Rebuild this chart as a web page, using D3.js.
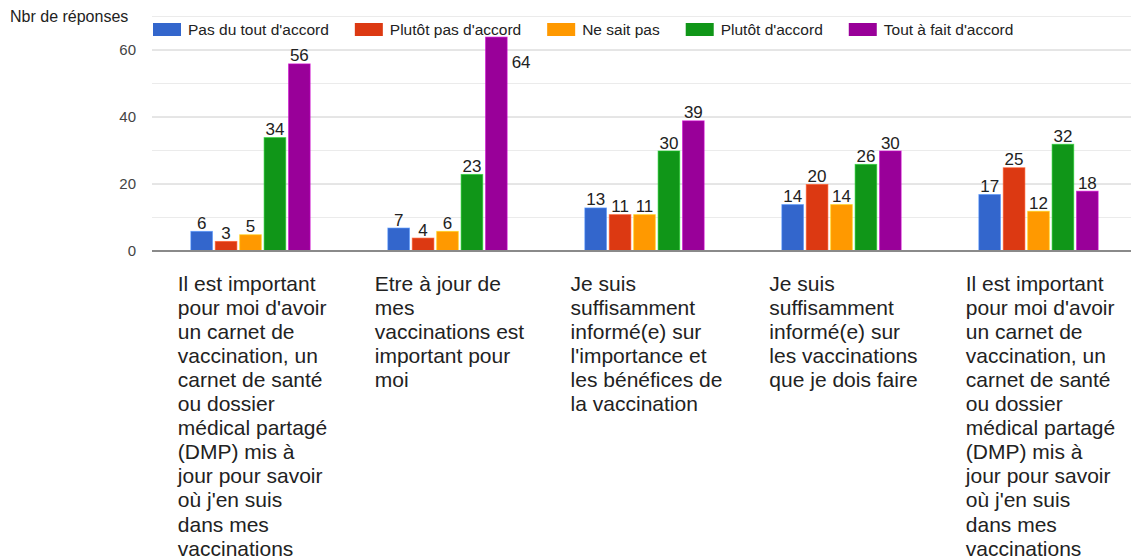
<!DOCTYPE html>
<html>
<head>
<meta charset="utf-8">
<script src="https://cdn.jsdelivr.net/npm/d3@7"></script>
<style>
  html, body { margin: 0; padding: 0; background: #fff; }
  svg { display: block; font-family: "Liberation Sans", Arial, Helvetica, sans-serif; }
</style>
</head>
<body>
<svg id="chart" width="1131" height="560"></svg>
<script>
// Survey statements (wrapped lines as displayed under each group)
const categories = [
  ["Il est important", "pour moi d'avoir", "un carnet de", "vaccination, un", "carnet de santé", "ou dossier", "médical partagé", "(DMP) mis à", "jour pour savoir", "où j'en suis", "dans mes", "vaccinations"],
  ["Etre à jour de", "mes", "vaccinations est", "important pour", "moi"],
  ["Je suis", "suffisamment", "informé(e) sur", "l'importance et", "les bénéfices de", "la vaccination"],
  ["Je suis", "suffisamment", "informé(e) sur", "les vaccinations", "que je dois faire"],
  ["Il est important", "pour moi d'avoir", "un carnet de", "vaccination, un", "carnet de santé", "ou dossier", "médical partagé", "(DMP) mis à", "jour pour savoir", "où j'en suis", "dans mes", "vaccinations"]
];

// Answer scale
const seriesNames = ["Pas du tout d'accord", "Plutôt pas d'accord", "Ne sait pas", "Plutôt d'accord", "Tout à fait d'accord"];
const seriesColors = ["#3366cc", "#dc3912", "#ff9900", "#109618", "#990099"];

// Number of answers per statement, one array per answer
const pasDuToutDAccord = [6, 7, 13, 14, 17];
const plutotPasDAccord = [3, 4, 11, 20, 25];
const neSaitPas = [5, 6, 11, 14, 12];
const plutotDAccord = [34, 23, 30, 26, 32];
const toutAFaitDAccord = [56, 64, 39, 30, 18];

const yTickValues = [0, 20, 40, 60];
const yMinorValues = [10, 30, 50, 70];
const yTitle = "Nbr de réponses";

const series = [pasDuToutDAccord, plutotPasDAccord, neSaitPas, plutotDAccord, toutAFaitDAccord];

const svg = d3.select("#chart");

const plotLeft = 152, plotRight = 1137;
const y = d3.scaleLinear().domain([0, 70]).range([251, 16.5]);
const x0 = d3.scaleBand().domain(d3.range(categories.length)).range([plotLeft, plotRight]);
const x1 = d3.scaleBand().domain(d3.range(series.length)).range([0, x0.bandwidth()])
  .paddingInner(0.075).paddingOuter(1.57);

// Grid lines
svg.append("g").selectAll("line").data(yMinorValues).join("line")
  .attr("x1", plotLeft).attr("x2", plotRight)
  .attr("y1", d => y(d)).attr("y2", d => y(d))
  .attr("stroke", "#ebebeb").attr("stroke-width", 1);
svg.append("g").selectAll("line").data(yTickValues.filter(v => v !== 0)).join("line")
  .attr("x1", plotLeft).attr("x2", plotRight)
  .attr("y1", d => y(d)).attr("y2", d => y(d))
  .attr("stroke", "#cccccc").attr("stroke-width", 1);

// Y axis labels
const yAxis = d3.axisLeft(y).tickValues(yTickValues).tickSize(0).tickPadding(16).tickFormat(d3.format("d"));
const yAxisG = svg.append("g").attr("transform", `translate(${plotLeft},0)`).call(yAxis);
yAxisG.select(".domain").remove();
yAxisG.selectAll("text")
  .attr("font-family", "Liberation Sans, Arial, sans-serif")
  .attr("font-size", 15).attr("fill", "#444");

svg.append("text")
  .attr("x", 10).attr("y", 22)
  .attr("font-size", 16).attr("fill", "#222")
  .text(yTitle);

// Bars
const groups = svg.append("g").selectAll("g").data(categories).join("g")
  .attr("transform", (d, i) => `translate(${x0(i)},0)`);

groups.each(function(cat, ci) {
  const g = d3.select(this);
  series.forEach((vals, si) => {
    const v = vals[ci];
    const bx = x1(si), bw = x1.bandwidth();
    g.append("rect")
      .attr("x", bx + 0.5).attr("y", y(v) + 0.5)
      .attr("width", bw - 1).attr("height", y(0) - y(v) - 0.5)
      .attr("fill", seriesColors[si])
      .attr("stroke", d3.color(seriesColors[si]).brighter(0.9))
      .attr("stroke-opacity", 0.6)
      .attr("stroke-width", 1);
  });
});

// Baseline
svg.append("line")
  .attr("x1", plotLeft).attr("x2", plotRight)
  .attr("y1", y(0)).attr("y2", y(0))
  .attr("stroke", "#8a8a8a").attr("stroke-width", 2);

// Value labels
const legendBottom = 37;
groups.each(function(cat, ci) {
  const g = d3.select(this);
  series.forEach((vals, si) => {
    const v = vals[ci];
    const bx = x1(si), bw = x1.bandwidth();
    const top = y(v);
    const t = g.append("text")
      .attr("font-size", 17).attr("fill", "#222")
      .text(v);
    if (top - 17 < legendBottom) {
      t.attr("x", bx + bw + 4).attr("y", top + 31).attr("text-anchor", "start");
    } else {
      t.attr("x", bx + bw / 2).attr("y", top - 2).attr("text-anchor", "middle");
    }
  });
});

// Category labels (left-aligned lines, block centred under each group)
const lineHeight = 24.1;
groups.each(function(lines, ci) {
  const g = d3.select(this);
  const t = g.append("text")
    .attr("font-size", 21).attr("fill", "#222");
  lines.forEach((ln, li) => {
    t.append("tspan").attr("x", 0).attr("y", 290.5 + li * lineHeight).text(ln);
  });
  let maxW = 0;
  t.selectAll("tspan").each(function() { maxW = Math.max(maxW, this.getComputedTextLength()); });
  const left = x0.bandwidth() / 2 - maxW / 2 + 2;
  t.selectAll("tspan").attr("x", left);
});

// Legend
const legend = svg.append("g");
let lx = 153;
seriesNames.forEach((name, si) => {
  legend.append("rect")
    .attr("x", lx).attr("y", 23).attr("width", 28).attr("height", 13)
    .attr("fill", seriesColors[si]);
  const t = legend.append("text")
    .attr("x", lx + 35).attr("y", 35)
    .attr("font-size", 15.5).attr("fill", "#222")
    .text(name);
  lx += 35 + t.node().getComputedTextLength() + 26;
});
</script>
</body>
</html>
